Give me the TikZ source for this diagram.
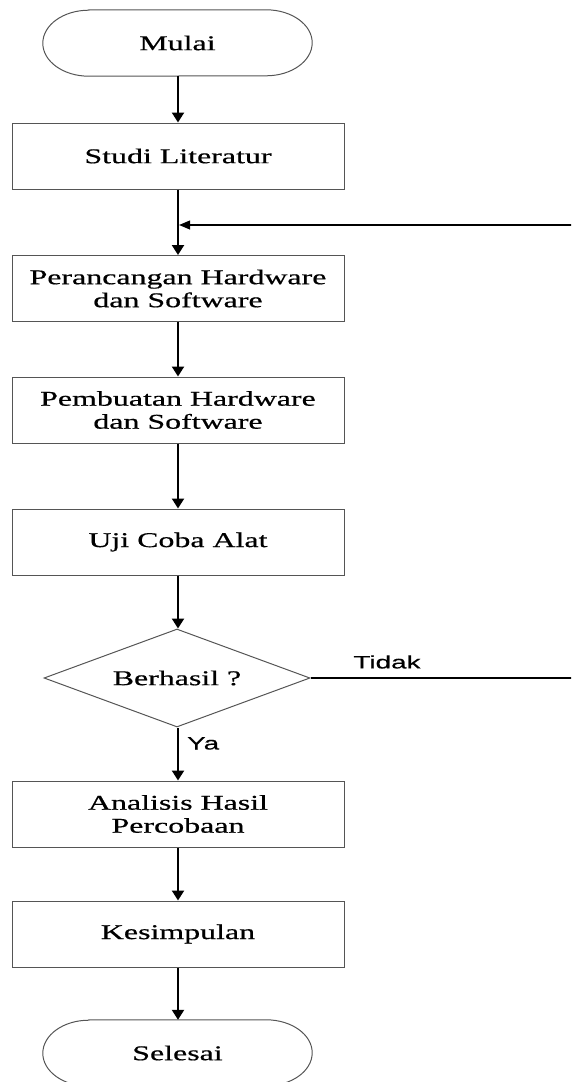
\documentclass[tikz,border=0pt]{standalone}
\usepackage{fontspec}
\setmainfont{Liberation Serif}[FakeStretch=1.52,FakeBold=0.6]
\setsansfont{Liberation Sans}[FakeStretch=1.55,FakeBold=0.4]
\usetikzlibrary{shapes.geometric,arrows.meta}
\definecolor{boxline}{HTML}{555555}
\begin{document}
\begin{tikzpicture}[x=1pt,y=1pt,
  procbox/.style={rectangle,draw=boxline,line width=1pt,minimum width=332pt,minimum height=66pt,inner sep=0pt,align=center,font=\fontsize{21}{23}\selectfont},
  termbox/.style={rectangle,draw=none,minimum width=269pt,minimum height=66pt,inner sep=0pt,font=\fontsize{21}{23}\selectfont},
  decbox/.style={diamond,draw=boxline,line width=1pt,minimum width=266pt,minimum height=98pt,aspect=2.71,inner sep=0pt,font=\fontsize{21}{23}\selectfont},
  termline/.style={draw=boxline,line width=1pt},
  flow/.style={line width=2.2pt,-{Triangle[length=10pt,width=12pt]}},
  back/.style={line width=1.1pt},
  lbl/.style={font=\sffamily\fontsize{18}{20}\selectfont,inner sep=0pt}
]
\useasboundingbox (0,0) rectangle (571,-1082);
\clip (0,0) rectangle (571,-1082);

\node[termbox] (mulai) at (177.5,-43) {Mulai};
\node[procbox] (studi) at (178,-156) {Studi Literatur};
\node[procbox] (peranc) at (178,-288.5) {Perancangan Hardware\\dan Software};
\node[procbox] (pembuat) at (178,-410) {Pembuatan Hardware\\dan Software};
\node[procbox] (uji) at (178,-542) {Uji Coba Alat};
\node[decbox] (dec) at (177,-678) {Berhasil ?};
\node[procbox] (anal) at (178,-814) {Analisis Hasil\\Percobaan};
\node[procbox] (kesim) at (178,-934) {Kesimpulan};
\node[termbox] (seles) at (177.5,-1053) {Selesai};

% terminal outlines
\foreach \t in {mulai,seles}{
  \draw[termline] ([xshift=46pt]\t.north west) -- ([xshift=-46pt]\t.north east)
    arc[start angle=90,end angle=-90,x radius=46pt,y radius=33pt]
    -- ([xshift=46pt]\t.south west)
    arc[start angle=270,end angle=90,x radius=46pt,y radius=33pt] -- cycle;
}

\coordinate (merge) at (178,-225);
\coordinate (rtop) at (575,-225);
\coordinate (rbot) at (575,-678);

\draw[flow] (mulai.south -| studi.north) -- (studi.north);
\draw[line width=2.2pt] (studi.south) -- (merge);
\draw[flow] (merge) -- (peranc.north);
\draw[flow] (peranc.south) -- (pembuat.north);
\draw[flow] (pembuat.south) -- (uji.north);
\draw[flow] (uji.south) -- (dec.north -| uji.south);
\draw[flow] (dec.south -| anal.north) -- node[lbl,right=8pt,pos=0.3] (ya) {Ya} (anal.north);
\draw[flow] (anal.south) -- (kesim.north);
\draw[flow] (kesim.south) -- (seles.north -| kesim.south);

\draw[back,-{Triangle[length=11pt,width=9pt]}] (dec.east) -- (rbot) -- (rtop) -- ([xshift=1.1pt]merge);
\node[lbl] (tidak) at (387,-662) {Tidak};
\end{tikzpicture}
\end{document}
